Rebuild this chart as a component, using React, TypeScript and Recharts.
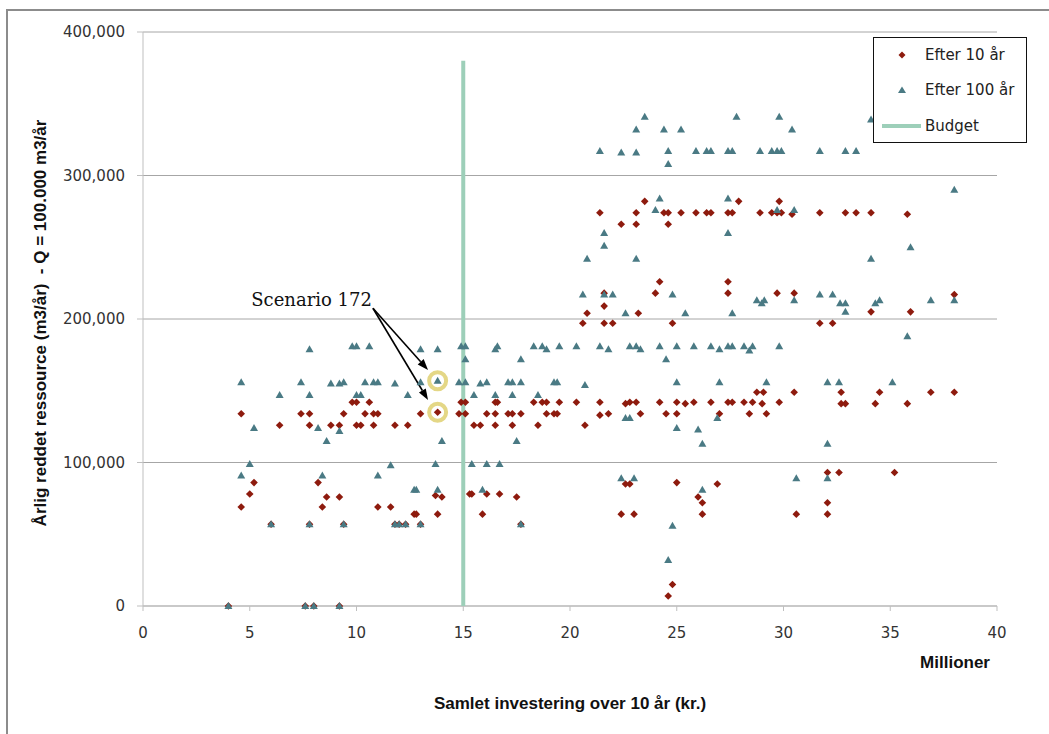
import React from "react";
import {
  ScatterChart,
  Scatter,
  XAxis,
  YAxis,
  CartesianGrid,
  Legend,
  Label,
  ReferenceDot,
  ReferenceLine,
} from "recharts";

// values: [investering (mio. kr.), ressource (m3/år)]
const EFTER_10: [number, number][] = [
  [9.8, 142000], [10.0, 142000], [10.6, 142000], [14.9, 142000], [15.1, 142000],
  [4.6, 134000], [7.4, 134000], [7.8, 134000], [9.4, 134000], [10.4, 134000], [10.8, 134000],
  [11.0, 134000], [13.0, 134000], [13.8, 135000], [14.8, 134000], [15.1, 134000],
  [6.4, 126000], [7.8, 126000], [8.8, 126000], [9.2, 126000], [10.0, 126000], [10.2, 126000],
  [10.8, 126000], [11.8, 126000], [12.4, 126000],
  [5.2, 86000], [8.2, 86000], [5.0, 78000], [8.6, 76000], [9.2, 76000], [13.7, 77000],
  [14.0, 76000], [15.3, 78000], [4.6, 69000], [8.4, 69000], [11.0, 69000], [11.6, 69000],
  [12.7, 64000], [12.8, 64000], [13.8, 64000],
  [6.0, 57000], [7.8, 57000], [9.4, 57000], [11.8, 57000], [12.0, 57000], [12.3, 57000],
  [13.0, 57000], [17.7, 57000], [4.0, 0], [7.6, 0], [8.0, 0], [9.2, 0],
  [21.6, 209000], [20.8, 204000], [23.2, 204000], [20.6, 197000], [21.6, 197000], [22.0, 197000], [24.8, 197000],
  [16.5, 142000], [16.6, 142000], [18.3, 142000], [18.7, 142000], [18.9, 142000], [19.5, 142000],
  [20.3, 142000], [21.4, 142000], [22.6, 141000], [22.8, 142000], [23.1, 142000], [24.2, 142000],
  [25.0, 142000], [25.4, 141000], [25.8, 142000], [26.6, 142000], [27.4, 142000], [27.6, 142000],
  [16.1, 134000], [16.5, 134000], [17.1, 134000], [17.3, 134000], [17.7, 134000], [18.9, 134000],
  [19.25, 134000], [19.4, 134000], [21.4, 133000], [21.8, 134000], [23.3, 134000], [24.5, 134000],
  [25.0, 134000], [27.0, 134000],
  [15.5, 126000], [15.8, 126000], [16.5, 126000], [17.3, 126000], [18.5, 126000], [20.7, 126000],
  [25.0, 86000], [22.6, 85000], [22.8, 85000], [26.9, 85000], [15.4, 78000], [16.1, 78000],
  [16.7, 78000], [17.5, 76000], [26.0, 76000], [26.2, 72000], [15.9, 64000], [22.4, 64000],
  [23.0, 64000], [26.2, 64000], [24.8, 15000], [24.6, 7000],
  [23.5, 282000], [21.4, 274000], [23.1, 274000], [24.4, 274000], [24.6, 274000], [25.2, 274000],
  [25.9, 274000], [26.4, 274000], [26.6, 274000], [27.4, 274000], [27.6, 274000], [27.9, 282000],
  [22.4, 266000], [23.1, 266000], [24.6, 266000], [24.2, 226000], [27.4, 226000], [24.0, 218000],
  [27.4, 218000], [21.6, 218000],
  [29.8, 282000], [28.9, 274000], [29.45, 274000], [29.7, 274000], [29.9, 274000], [30.4, 273000],
  [31.7, 274000], [32.9, 274000], [33.4, 274000], [34.1, 274000], [35.8, 273000],
  [29.7, 218000], [30.5, 218000], [38.0, 217000], [34.1, 205000], [35.95, 205000], [31.7, 197000], [32.3, 197000],
  [28.75, 149000], [29.06, 149000], [30.5, 149000], [32.7, 149000], [34.5, 149000], [36.9, 149000], [38.0, 149000],
  [28.15, 142000], [28.55, 142000], [29.0, 141000], [29.8, 142000], [32.7, 141000], [32.9, 141000],
  [34.3, 141000], [35.8, 141000], [28.4, 134000], [29.2, 134000],
  [32.06, 93000], [32.6, 93000], [35.2, 93000], [32.06, 72000], [30.6, 64000], [32.06, 64000],
];

const EFTER_100: [number, number][] = [
  [7.8, 179000], [9.8, 181000], [10.0, 181000], [10.6, 181000], [13.0, 179000], [13.8, 179000],
  [14.9, 181000], [15.1, 181000], [15.1, 172000],
  [4.6, 156000], [7.4, 156000], [8.8, 155000], [9.2, 155000], [9.4, 156000], [10.4, 156000],
  [10.8, 156000], [11.0, 156000], [11.8, 155000], [13.0, 156000], [13.8, 157000], [14.8, 156000], [15.1, 156000],
  [6.4, 147000], [7.8, 147000], [10.0, 147000], [10.2, 147000], [12.4, 147000],
  [5.2, 124000], [8.2, 124000], [9.2, 122000], [8.6, 115000], [14.0, 115000],
  [5.0, 99000], [11.6, 98000], [13.7, 99000], [15.4, 99000], [4.6, 91000], [8.4, 91000], [11.0, 91000],
  [12.7, 81000], [12.8, 81000], [13.8, 81000],
  [6.0, 57000], [7.8, 57000], [9.4, 57000], [11.8, 57000], [12.0, 57000], [12.3, 57000], [13.0, 57000],
  [4.0, 0], [7.6, 0], [8.0, 0], [9.2, 0],
  [22.6, 204000], [25.4, 204000], [27.6, 204000],
  [16.5, 179000], [16.6, 181000], [17.7, 172000], [18.3, 181000], [18.7, 181000], [18.9, 179000],
  [19.5, 181000], [20.3, 181000], [21.4, 181000], [21.8, 179000], [22.8, 181000], [23.1, 181000],
  [23.3, 179000], [24.2, 181000], [24.5, 172000], [25.0, 181000], [25.8, 181000], [26.6, 181000],
  [27.0, 179000], [27.4, 181000], [27.6, 181000],
  [15.8, 155000], [16.1, 156000], [17.1, 156000], [17.3, 156000], [17.7, 156000], [19.25, 156000],
  [19.4, 156000], [20.7, 154000], [25.0, 156000], [27.0, 156000],
  [15.5, 147000], [16.5, 147000], [17.3, 147000], [18.5, 147000],
  [22.6, 131000], [22.8, 131000], [26.9, 131000], [25.0, 124000], [26.0, 123000], [26.2, 113000], [17.5, 115000],
  [16.1, 99000], [16.7, 99000], [22.4, 89000], [23.0, 89000], [15.9, 81000], [26.2, 81000],
  [17.7, 57000], [24.8, 56000], [24.6, 32000],
  [23.5, 341000], [23.1, 332000], [24.4, 332000], [25.2, 332000], [21.4, 317000], [22.4, 316000],
  [23.1, 316000], [24.6, 317000], [24.6, 308000], [25.9, 317000], [26.4, 317000], [26.6, 317000],
  [27.4, 317000], [27.6, 317000], [27.8, 341000],
  [24.2, 284000], [24.0, 276000], [27.4, 284000], [21.6, 260000], [21.6, 251000], [20.8, 242000],
  [23.1, 242000], [27.4, 260000], [20.6, 217000], [21.6, 217000], [22.0, 217000], [24.8, 217000],
  [29.8, 341000], [30.4, 332000], [34.1, 339000], [28.9, 317000], [29.45, 317000], [29.7, 317000],
  [29.9, 317000], [31.7, 317000], [32.9, 317000], [33.4, 317000],
  [38.0, 290000], [29.7, 276000], [30.5, 276000], [35.95, 250000], [34.1, 242000],
  [28.75, 213000], [28.98, 211000], [29.1, 213000], [30.5, 213000], [31.7, 217000], [32.3, 217000],
  [32.65, 211000], [32.9, 211000], [32.9, 205000], [34.3, 211000], [34.5, 213000], [36.9, 213000], [38.0, 213000],
  [35.8, 188000], [28.15, 181000], [28.4, 178000], [28.55, 181000], [29.8, 181000],
  [29.2, 156000], [32.06, 156000], [32.6, 156000], [35.1, 156000],
  [32.06, 113000], [30.6, 89000], [32.06, 89000],
];

const BUDGET: [number, number][] = [
  [15, 0],
  [15, 380000],
];

// scenario 172 (circled) and where its label sits
const SCENARIO_172: [number, number][] = [
  [13.8, 157000],
  [13.8, 135000],
];
const SCENARIO_LABEL: [number, number] = [10.77, 207500];
const SCENARIO_ARROW_TIPS: [number, number][] = [
  [13.35, 164500],
  [13.35, 143600],
];

const X_TICKS = [0, 5, 10, 15, 20, 25, 30, 35, 40];
const Y_TICKS = [0, 100000, 200000, 300000, 400000];

const RED = "#8E1B0E";
const TEAL = "#4A7A84";
const GREEN = "#9DCFB9";
const RING = "#E4D786";
const FONT = "'DejaVu Sans', sans-serif";
const TITLE_FONT = "'Liberation Sans', Arial, sans-serif";

const toPoints = (rows: [number, number][]) => rows.map(([x, y]) => ({ x, y }));

const DiamondShape = (props: any) => {
  const { cx, cy } = props;
  const h = 3.8;
  return <polygon points={`${cx},${cy - h} ${cx + h},${cy} ${cx},${cy + h} ${cx - h},${cy}`} fill={RED} />;
};

const TriangleShape = (props: any) => {
  const { cx, cy } = props;
  return <polygon points={`${cx},${cy - 4} ${cx + 4},${cy + 3} ${cx - 4},${cy + 3}`} fill={TEAL} />;
};

const NoShape = () => <g />;

const ArrowShape = (props: any) => {
  const { x1, y1, x2, y2 } = props;
  const a = Math.atan2(y2 - y1, x2 - x1);
  const len = 11;
  const w = 4;
  const bx = x2 - len * Math.cos(a);
  const by = y2 - len * Math.sin(a);
  const px = -Math.sin(a) * w;
  const py = Math.cos(a) * w;
  return (
    <g>
      <line x1={x1} y1={y1} x2={bx} y2={by} stroke="#000" strokeWidth={1.6} />
      <polygon points={`${x2},${y2} ${bx + px},${by + py} ${bx - px},${by - py}`} fill="#000" />
    </g>
  );
};

const ScenarioText = (props: any) => (
  <text x={props.cx - 1} y={props.cy - 2} textAnchor="end" fontFamily="'DejaVu Serif', serif" fontSize={18} fill="#111">
    Scenario 172
  </text>
);

const XTitle = (props: any) => {
  const { x, y, width } = props.viewBox;
  return (
    <g fontFamily={TITLE_FONT} fontWeight="bold" fontSize={17} fill="#111">
      <text x={x + width - 7} y={y + 62} textAnchor="end">Millioner</text>
      <text x={x + width / 2} y={y + 103} textAnchor="middle">Samlet investering over 10 år (kr.)</text>
    </g>
  );
};

const YTitle = (props: any) => {
  const { x, y, height } = props.viewBox;
  const cx = x + 32;
  const cy = y + height / 2 + 4;
  return (
    <text
      x={cx}
      y={cy}
      transform={`rotate(-90, ${cx}, ${cy})`}
      textAnchor="middle"
      dominantBaseline="central"
      fontFamily={TITLE_FONT}
      fontWeight="bold"
      fontSize={17}
      fill="#111"
      style={{ whiteSpace: "pre" }}
    >
      {"Årlig reddet ressource (m3/år)  - Q = 100.000 m3/år"}
    </text>
  );
};

const LegendBox = () => (
  <svg width={154} height={106} style={{ display: "block", background: "#fff" }}>
    <rect x={0.5} y={0.5} width={153} height={105} fill="#fff" stroke="#111" />
    <polygon points="29,14.5 32.5,18 29,21.5 25.5,18" fill={RED} />
    <text x={52} y={23} fontFamily={FONT} fontSize={15} fill="#222">Efter 10 år</text>
    <polygon points="29,49.5 33,56 25,56" fill={TEAL} />
    <text x={52} y={58} fontFamily={FONT} fontSize={15} fill="#222">Efter 100 år</text>
    <line x1={9} y1={89} x2={48} y2={89} stroke={GREEN} strokeWidth={4} />
    <text x={52} y={94} fontFamily={FONT} fontSize={15} fill="#222">Budget</text>
  </svg>
);

export default function App() {
  return (
    <div style={{ position: "absolute", left: 0, top: 0, width: 1049, height: 734, overflow: "hidden", background: "#fff" }}>
      {/* outer chart frame, runs past the right and bottom edges */}
      <div style={{ position: "absolute", left: 6, top: 9, width: 1200, height: 900, border: "2px solid #8c8c8c" }} />
      <div style={{ position: "absolute", left: 0, top: 0 }}>
        <ScatterChart width={1049} height={734} margin={{ top: 32, right: 52, bottom: 98, left: 8 }}>
          <CartesianGrid horizontal vertical={false} stroke="#a6a6a6" />
          <XAxis
            type="number"
            dataKey="x"
            domain={[0, 40]}
            ticks={X_TICKS}
            interval={0}
            height={30}
            stroke="#bfbfbf"
            tickSize={5}
            tickMargin={16}
            tick={{ fill: "#333", fontSize: 15, fontFamily: FONT }}
          >
            <Label content={XTitle} />
          </XAxis>
          <YAxis
            type="number"
            dataKey="y"
            domain={[0, 400000]}
            ticks={Y_TICKS}
            interval={0}
            width={135}
            stroke="#bfbfbf"
            tickSize={6}
            tickMargin={12}
            tickFormatter={(v: number) => v.toLocaleString("en-US")}
            tick={{ fill: "#333", fontSize: 15, fontFamily: FONT }}
          >
            <Label content={YTitle} />
          </YAxis>
          <Scatter
            name="Budget"
            data={toPoints(BUDGET)}
            line={{ stroke: GREEN, strokeWidth: 4 }}
            lineType="joint"
            shape={NoShape}
            fill={GREEN}
            isAnimationActive={false}
          />
          <Scatter name="Efter 10 år" data={toPoints(EFTER_10)} shape={DiamondShape} fill={RED} isAnimationActive={false} />
          <Scatter name="Efter 100 år" data={toPoints(EFTER_100)} shape={TriangleShape} fill={TEAL} isAnimationActive={false} />
          {SCENARIO_172.map(([x, y]) => (
            <ReferenceDot key={y} x={x} y={y} r={8.5} fill="none" stroke={RING} strokeWidth={4} />
          ))}
          {SCENARIO_ARROW_TIPS.map(([x, y]) => (
            <ReferenceLine
              key={y}
              segment={[
                { x: SCENARIO_LABEL[0], y: SCENARIO_LABEL[1] },
                { x, y },
              ]}
              shape={ArrowShape}
            />
          ))}
          <ReferenceDot x={SCENARIO_LABEL[0]} y={SCENARIO_LABEL[1]} r={1} shape={ScenarioText} />
          <Legend
            layout="vertical"
            align="center"
            verticalAlign="middle"
            content={LegendBox}
            wrapperStyle={{ left: 873, top: 37, width: 154, height: 106 }}
          />
        </ScatterChart>
      </div>
    </div>
  );
}
